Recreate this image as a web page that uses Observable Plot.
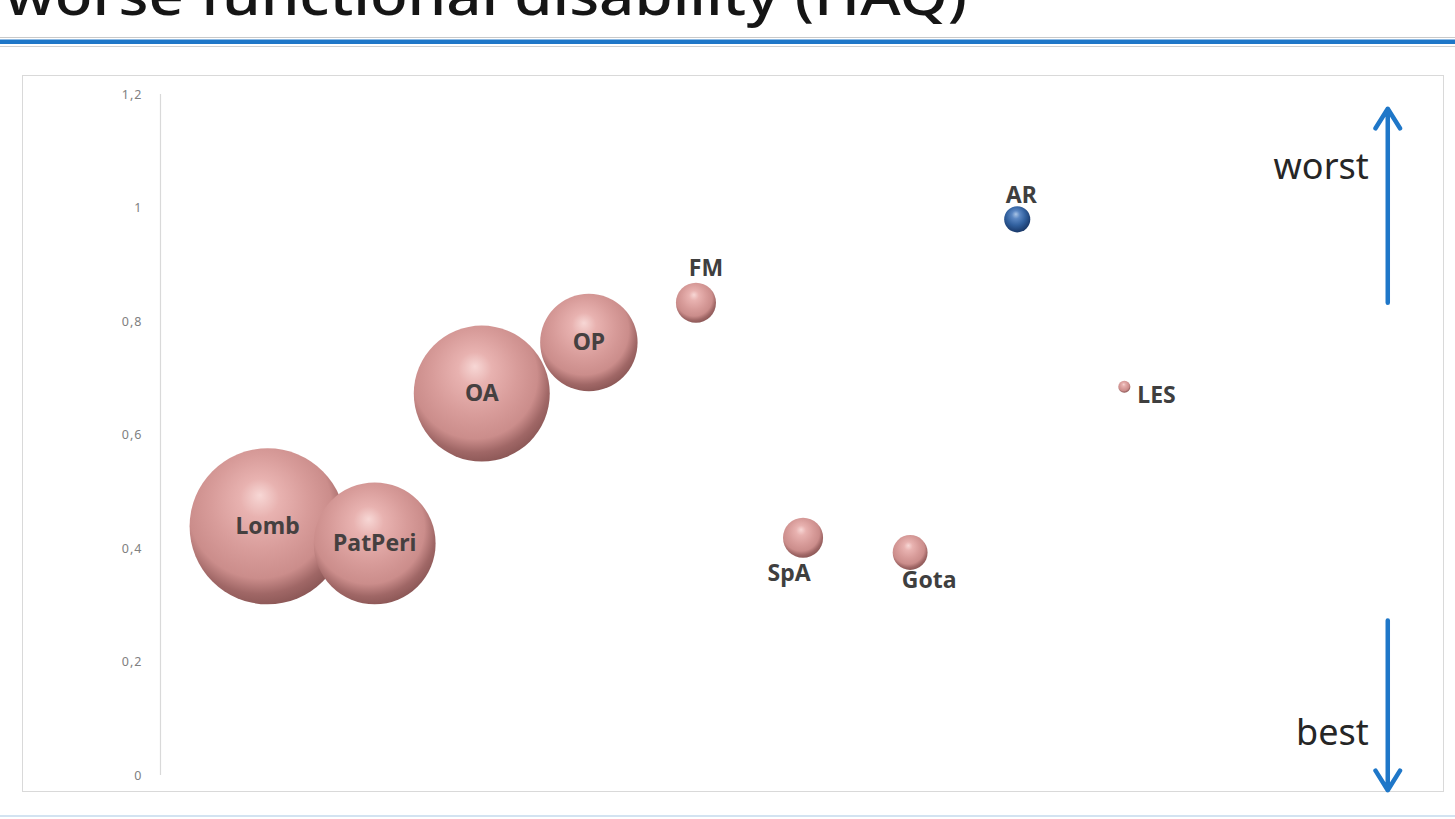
<!DOCTYPE html>
<html>
<head>
<meta charset="utf-8">
<script src="https://cdn.jsdelivr.net/npm/d3@7"></script>
<script src="https://cdn.jsdelivr.net/npm/@observablehq/plot@0.6"></script>
<style>
  html, body { margin: 0; padding: 0; background: #fff; width: 1455px; height: 819px; overflow: hidden; position: relative; font-family: "Noto Sans", sans-serif; }
  #title { position: absolute; left: 0; top: 0; }
  #chartbox { position: absolute; left: 22px; top: 75px; width: 1420px; height: 715px; border: 1px solid #d9d9d9; }
  #chartbox svg { display: block; }
  #bottomline { position: absolute; left: 0; top: 815px; width: 1455px; height: 2px; background: #d3e3f1; }
</style>
</head>
<body>
<svg id="title" width="1455" height="50">
  <text x="5" y="15" font-family="Noto Sans" font-weight="500" font-size="54" fill="#151515" textLength="962" lengthAdjust="spacingAndGlyphs">worse functional disability (HAQ)</text>
  <rect x="0" y="37" width="1455" height="1" fill="#c9c9c9"></rect>
  <rect x="0" y="39.5" width="1455" height="4.5" fill="#1f77c8"></rect>
  <rect x="0" y="46" width="1455" height="1" fill="#d0d0d0"></rect>
</svg>
<div id="chartbox"></div>
<div id="bottomline"></div>
<script>
// ---- data ----
const names    = ["Lomb", "PatPeri", "OA", "OP", "FM", "SpA", "Gota", "AR", "LES"];
const position = [1, 2, 3, 4, 5, 6, 7, 8, 9];
const haq      = [0.439, 0.409, 0.673, 0.763, 0.833, 0.419, 0.393, 0.980, 0.685];
const sizes    = [100, 61, 76, 39, 6.6, 6.6, 5, 2.8, 0.6];
const yTicks   = [0, 0.2, 0.4, 0.6, 0.8, 1, 1.2];
const highlight = "AR";

// direction annotations (arrow at right side)
const arrowLabels = ["worst", "best"];
const arrowFrom   = [0.833, 0.273];
const arrowTo     = [1.175, -0.026];
const arrowLabelY = [1.071, 0.074];
const arrowX      = 11.46;

const data = names.map((n, i) => ({name: n, x: position[i], y: haq[i], size: sizes[i]}));
const arrows = arrowLabels.map((l, i) => ({label: l, x: arrowX, y1: arrowFrom[i], y2: arrowTo[i], ly: arrowLabelY[i]}));

const byName = n => d => d.name === n;
const labelFont = {fontFamily: "Noto Sans", fontWeight: "bold", fontSize: 23, fill: "#3f3f3f"};

const chart = Plot.plot({
  width: 1420,
  height: 715,
  marginLeft: 137,
  marginRight: 105,
  marginTop: 18,
  marginBottom: 16,
  style: {fontFamily: "Noto Sans", background: "white", overflow: "visible"},
  x: {domain: [0, 11], axis: null},
  y: {domain: [0, 1.2]},
  r: {type: "sqrt", domain: [0, 100], range: [0, 78]},
  color: {type: "identity"},
  marks: [
    Plot.ruleX([0], {y1: 0, y2: 1.2, stroke: "#d9d9d9", strokeWidth: 1.2}),
    Plot.axisY({ticks: yTicks, tickSize: 0, tickPadding: 18, fontSize: 12.5, fill: "#808080",
      className: "yax", tickFormat: d => String(d).replace(".", ","), label: null}),
    Plot.dot(data, {x: "x", y: "y", r: "size",
      fill: d => d.name === highlight ? "url(#blueGrad)" : "url(#pinkGrad)",
      stroke: "none", sort: {channel: "r", order: "descending"}}),
    // labels inside big bubbles
    Plot.text(data, {filter: d => ["Lomb", "PatPeri", "OA", "OP"].includes(d.name), x: "x", y: "y", text: "name", ...labelFont, fill: "#454040"}),
    Plot.text(data, {filter: byName("FM"), x: "x", y: "y", text: "name", dx: 10, dy: -34, ...labelFont}),
    Plot.text(data, {filter: byName("AR"), x: "x", y: "y", text: "name", dx: 4, dy: -24, ...labelFont}),
    Plot.text(data, {filter: byName("SpA"), x: "x", y: "y", text: "name", dx: -14, dy: 36, ...labelFont}),
    Plot.text(data, {filter: byName("Gota"), x: "x", y: "y", text: "name", dx: 19, dy: 28, ...labelFont}),
    Plot.text(data, {filter: byName("LES"), x: "x", y: "y", text: "name", dx: 13, dy: 9, textAnchor: "start", ...labelFont}),
    // direction arrows
    Plot.arrow(arrows, {x1: "x", x2: "x", y1: "y1", y2: "y2", stroke: "#1f77c8", strokeWidth: 4.5, headLength: 7.7, headAngle: 64, bend: 0}),
    Plot.text(arrows, {x: "x", y: "ly", text: "label", dx: -19, textAnchor: "end", fontSize: 36, fill: "#262626", fontFamily: "Noto Sans"})
  ]
});

d3.select(chart).selectAll(".yax text").style("letter-spacing", "1px");

d3.select(chart).insert("defs", ":first-child").html(`
  <radialGradient id="pinkGrad" cx="0.45" cy="0.4" r="0.62" fx="0.45" fy="0.3">
    <stop offset="0" stop-color="#f7d7d5"/>
    <stop offset="0.2" stop-color="#e8b2b0"/>
    <stop offset="0.5" stop-color="#d89c9a"/>
    <stop offset="0.74" stop-color="#cb8d8b"/>
    <stop offset="0.88" stop-color="#a06766"/>
    <stop offset="1" stop-color="#8a5655"/>
  </radialGradient>
  <radialGradient id="blueGrad" cx="0.45" cy="0.4" r="0.62" fx="0.45" fy="0.3">
    <stop offset="0" stop-color="#a9c4e6"/>
    <stop offset="0.25" stop-color="#5b87c3"/>
    <stop offset="0.6" stop-color="#31609e"/>
    <stop offset="0.88" stop-color="#1f4276"/>
    <stop offset="1" stop-color="#1a3866"/>
  </radialGradient>`);

document.getElementById("chartbox").appendChild(chart);
</script>
</body>
</html>
